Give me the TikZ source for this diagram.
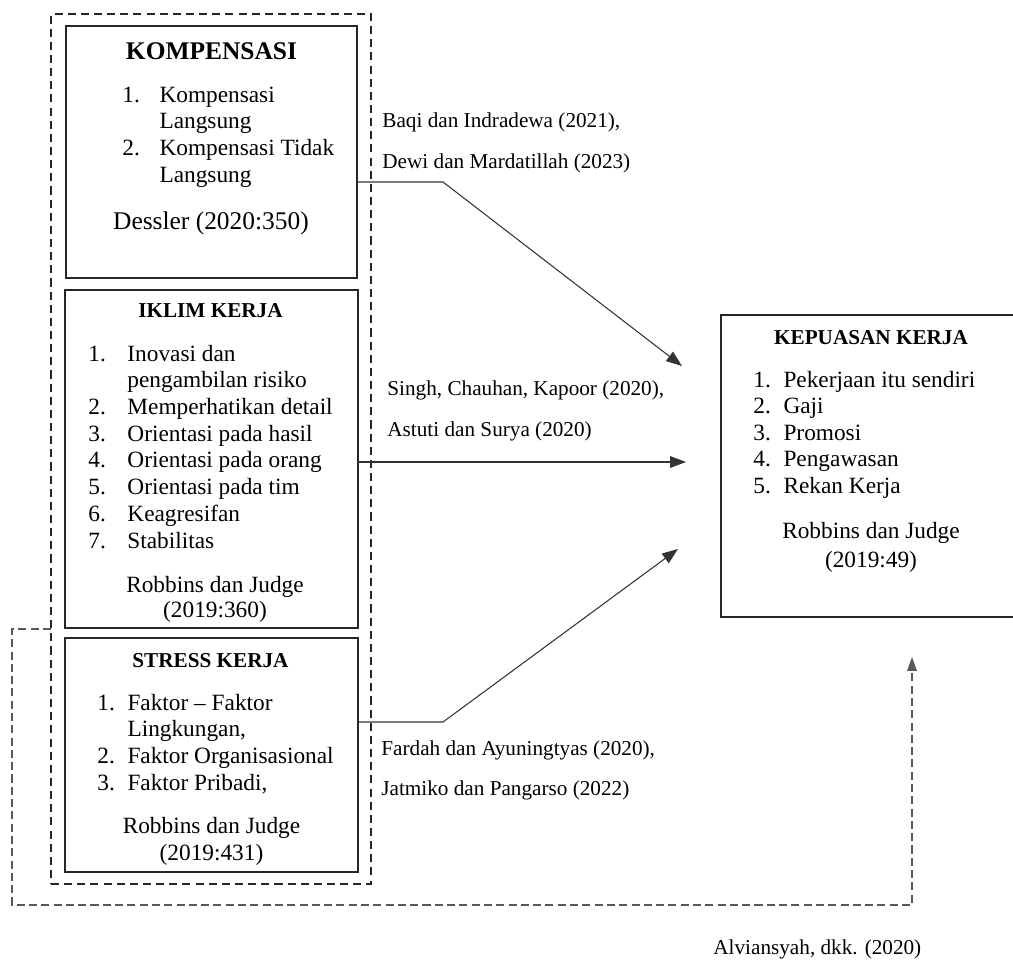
\documentclass[tikz,border=0pt]{standalone}
\usepackage{fontspec}
\setmainfont{Liberation Serif}
\usetikzlibrary{arrows.meta}
\begin{document}
\begin{tikzpicture}[x=0.4717pt,y=-0.4717pt,
  box/.style={draw=black!85,line width=0.75pt,inner sep=0,outer sep=0},
  outerbox/.style={draw=black!85,line width=0.8pt,dash pattern=on 3.8pt off 2.4pt,inner sep=0,outer sep=0},
  arr/.style={draw=black!80,line width=0.5pt,-{Triangle[length=7.5pt,width=5.5pt]}},
  fb/.style={draw=black!65,line width=0.6pt,dash pattern=on 3.8pt off 2pt,-{Triangle[length=6.5pt,width=4.5pt]}},
  ttl/.style={font=\bfseries\fontsize{10pt}{12pt}\selectfont,anchor=base,inner sep=0},
  body/.style={font=\fontsize{11pt}{12.6pt}\selectfont,inner sep=0},
  refl/.style={font=\fontsize{10pt}{12pt}\selectfont,anchor=base west,inner sep=0}]
\useasboundingbox (0,0) rectangle (1013,962);
\clip (0,0) rectangle (1013,962);
% boxes
\node[outerbox,minimum width=320*0.4717pt,minimum height=870*0.4717pt] (outer) at (211,449) {};
\node[box,minimum width=291*0.4717pt,minimum height=252*0.4717pt] (komp) at (211.5,152) {};
\node[box,minimum width=293*0.4717pt,minimum height=338*0.4717pt] (iklim) at (211.5,459) {};
\node[box,minimum width=293*0.4717pt,minimum height=234*0.4717pt] (stress) at (211.5,755) {};
\node[box,minimum width=304*0.4717pt,minimum height=302*0.4717pt] (kep) at (873,466) {};
% KOMPENSASI
\node[ttl,font=\bfseries\fontsize{12pt}{14pt}\selectfont] (kt) at (211.5,59) {KOMPENSASI};
\node[body,anchor=base west] (kl) at (122,102) {\begin{tabular}[t]{@{}p{17.5pt}@{}l@{}}1.&Kompensasi\\&Langsung\\2.&Kompensasi Tidak\\&Langsung\end{tabular}};
\node[body,anchor=base,font=\fontsize{12pt}{14pt}\selectfont] (kr) at (211,229) {Dessler (2020:350)};
% IKLIM KERJA
\node[ttl] (it) at (210.5,317) {IKLIM KERJA};
\node[body,anchor=base west] (il) at (88,361) {\begin{tabular}[t]{@{}p{18.4pt}@{}l@{}}1.&Inovasi dan\\&pengambilan risiko\\2.&Memperhatikan detail\\3.&Orientasi pada hasil\\4.&Orientasi pada orang\\5.&Orientasi pada tim\\6.&Keagresifan\\7.&Stabilitas\end{tabular}};
\node[body,anchor=base] (ir1) at (215,592) {Robbins dan Judge};
\node[body,anchor=base] (ir2) at (215,617) {(2019:360)};
% STRESS KERJA
\node[ttl] (st) at (210.5,667) {STRESS KERJA};
\node[body,anchor=base west] (sl) at (97,710) {\begin{tabular}[t]{@{}p{14.2pt}@{}l@{}}1.&Faktor -- Faktor\\&Lingkungan,\\2.&Faktor Organisasional\\3.&Faktor Pribadi,\end{tabular}};
\node[body,anchor=base] (sr1) at (211.5,833) {Robbins dan Judge};
\node[body,anchor=base] (sr2) at (211.5,860) {(2019:431)};
% KEPUASAN KERJA
\node[ttl] (pt) at (871,344) {KEPUASAN KERJA};
\node[body,anchor=base west,font=\fontsize{11pt}{12.5pt}\selectfont] (pl) at (753,387) {\begin{tabular}[t]{@{}p{14.2pt}@{}l@{}}1.&Pekerjaan itu sendiri\\2.&Gaji\\3.&Promosi\\4.&Pengawasan\\5.&Rekan Kerja\end{tabular}};
\node[body,anchor=base] (pr1) at (871,538) {Robbins dan Judge};
\node[body,anchor=base] (pr2) at (871,567) {(2019:49)};
% references
\node[refl] (r1a) at (382,127) {Baqi dan Indradewa (2021),};
\node[refl] (r1b) at (382,168) {Dewi dan Mardatillah (2023)};
\node[refl] (r2a) at (387,395) {Singh, Chauhan, Kapoor (2020),};
\node[refl] (r2b) at (387,436) {Astuti dan Surya (2020)};
\node[refl] (r3a) at (381,755) {Fardah dan Ayuningtyas (2020),};
\node[refl] (r3b) at (381,795) {Jatmiko dan Pangarso (2022)};
\node[refl] (r4) at (713,954) {Alviansyah, dkk. (2020)};
% connectors
\coordinate (c1) at (443,182); \coordinate (t1) at (682,366);
\draw[arr] (c1 -| komp.east) -- (c1) -- (t1);
\coordinate (t2) at (686,462);
\draw[arr] (t2 -| iklim.east) -- (t2);
\coordinate (c3) at (443,722); \coordinate (t3) at (678,549);
\draw[arr] (c3 -| stress.east) -- (c3) -- (t3);
\coordinate (f1) at (12,629); \coordinate (f2) at (12,905);
\coordinate (f3) at (912,905); \coordinate (f4) at (912,657);
\draw[fb] (f1 -| outer.west) -- (f1) -- (f2) -- (f3) -- (f4);
\end{tikzpicture}
\end{document}
